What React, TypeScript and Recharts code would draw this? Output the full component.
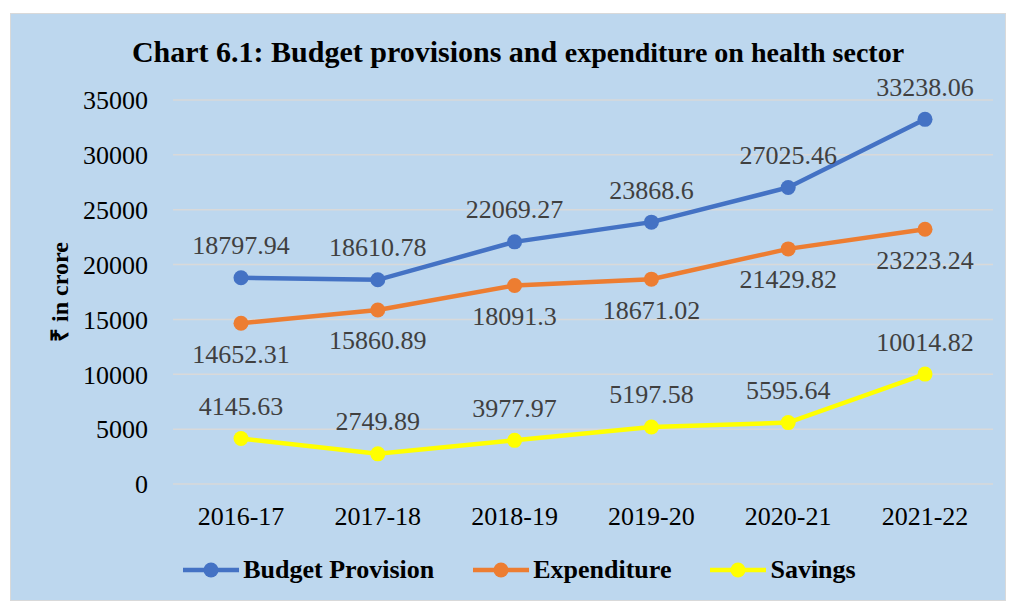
import { LineChart, Line, XAxis, YAxis, CartesianGrid, Legend, LabelList } from 'recharts';

const years = ['2016-17', '2017-18', '2018-19', '2019-20', '2020-21', '2021-22'];
const budgetProvision = [18797.94, 18610.78, 22069.27, 23868.6, 27025.46, 33238.06];
const expenditure = [14652.31, 15860.89, 18091.3, 18671.02, 21429.82, 23223.24];
const savings = [4145.63, 2749.89, 3977.97, 5197.58, 5595.64, 10014.82];
const yTicks = [0, 5000, 10000, 15000, 20000, 25000, 30000, 35000];

const FONT = '"Liberation Serif", "Times New Roman", serif';
const BG = '#BDD7EE';

const seriesList = [
  { key: 'budget', name: 'Budget Provision', color: '#4472C4', labelAbove: true },
  { key: 'expenditure', name: 'Expenditure', color: '#ED7D31', labelAbove: false },
  { key: 'savings', name: 'Savings', color: '#FFFF00', labelAbove: true },
];

const data = years.map((year, i) => ({
  year,
  budget: budgetProvision[i],
  expenditure: expenditure[i],
  savings: savings[i],
}));

function makeLabel(above: boolean) {
  return (props: any) => {
    const { x, y, value } = props;
    return (
      <text
        x={x}
        y={above ? y - 32 : y + 31}
        textAnchor="middle"
        dominantBaseline="central"
        fontFamily={FONT}
        fontSize={26}
        fill="#404040"
      >
        {value}
      </text>
    );
  };
}

function LegendContent() {
  return (
    <div style={{ display: 'flex', justifyContent: 'center', alignItems: 'center', gap: 38, paddingLeft: 22 }}>
      {seriesList.map((s) => (
        <div key={s.key} style={{ display: 'flex', alignItems: 'center' }}>
          <svg width={58} height={20}>
            <line x1={1} y1={10} x2={57} y2={10} stroke={s.color} strokeWidth={4.5} />
            <circle cx={29} cy={10} r={7.5} fill={s.color} />
          </svg>
          <span style={{ fontFamily: FONT, fontWeight: 'bold', fontSize: 26, color: '#000', marginLeft: 3 }}>
            {s.name}
          </span>
        </div>
      ))}
    </div>
  );
}

function YLabel(props: any) {
  const { viewBox } = props;
  const cy = viewBox.y + viewBox.height / 2;
  return (
    <text
      x={50}
      y={cy}
      transform={`rotate(-90, 50, ${cy})`}
      textAnchor="middle"
      dominantBaseline="central"
      fontFamily={FONT}
      fontWeight="bold"
      fontSize={24}
      fill="#000"
    >
      ₹ in crore
    </text>
  );
}

export default function App() {
  return (
    <div
      style={{
        position: 'absolute',
        left: 10,
        top: 13,
        width: 996,
        height: 588,
        background: BG,
        border: '1px solid #D9D9D9',
        boxSizing: 'border-box',
      }}
    >
      <div
        style={{
          position: 'absolute',
          left: 0,
          width: 1014,
          top: 20,
          textAlign: 'center',
          fontFamily: FONT,
          fontWeight: 'bold',
          color: '#000',
          fontSize: 30,
          lineHeight: '36px',
          whiteSpace: 'nowrap',
        }}
      >
        Chart 6.1: Budget provisions and <span style={{ fontSize: 28 }}>expenditure on health sector</span>
      </div>
      <div style={{ position: 'absolute', left: -1, top: -1 }}>
        <LineChart
          width={996}
          height={588}
          data={data}
          margin={{ top: 87, right: 13, bottom: 27, left: 0 }}
        >
          <CartesianGrid vertical={false} stroke="#D9D9D9" strokeWidth={1.5} />
          <XAxis
            dataKey="year"
            axisLine={false}
            tickLine={false}
            tickSize={0}
            tickMargin={23}
            height={50}
            padding={{ left: 68, right: 68 }}
            tick={{ fontFamily: FONT, fontSize: 26, fill: '#000' }}
          />
          <YAxis
            domain={[0, 35000]}
            ticks={yTicks}
            interval={0}
            axisLine={false}
            tickLine={false}
            tickSize={0}
            tickMargin={25}
            width={163}
            tick={{ fontFamily: FONT, fontSize: 26, fill: '#000' }}
            label={<YLabel />}
          />
          <Legend
            verticalAlign="bottom"
            content={<LegendContent />}
            wrapperStyle={{ left: 0, width: 996, height: 40, bottom: 6 }}
          />
          {seriesList.map((s) => (
            <Line
              key={s.key}
              type="linear"
              dataKey={s.key}
              name={s.name}
              stroke={s.color}
              strokeWidth={4.5}
              dot={{ r: 7.5, fill: s.color, stroke: s.color, strokeWidth: 0 }}
              activeDot={false}
              isAnimationActive={false}
            >
              <LabelList dataKey={s.key} content={makeLabel(s.labelAbove)} />
            </Line>
          ))}
        </LineChart>
      </div>
    </div>
  );
}
